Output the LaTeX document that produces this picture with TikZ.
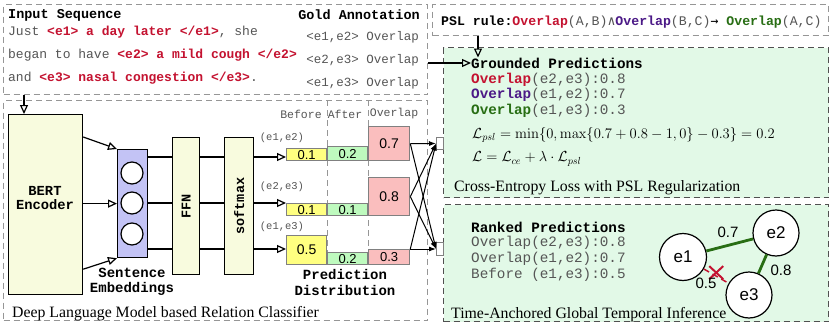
\documentclass[tikz,border=0pt]{standalone}
\usepackage{fix-cm}
\usepackage[no-math]{fontspec}
\setmainfont{Liberation Serif}
\setsansfont{Liberation Sans}
\setmonofont{Liberation Mono}
\newfontfamily\dvmono{DejaVu Sans Mono}
\usetikzlibrary{arrows.meta,calc}
\definecolor{tred}{RGB}{196,18,48}
\definecolor{tpurple}{RGB}{75,25,135}
\definecolor{tgreen}{RGB}{40,110,20}
\definecolor{tgray}{RGB}{85,85,85}
\definecolor{lgreen}{RGB}{226,249,231}
\definecolor{cream}{RGB}{248,251,222}
\definecolor{lblue}{RGB}{195,195,245}
\definecolor{byellow}{RGB}{255,255,128}
\definecolor{bgreen}{RGB}{190,250,190}
\definecolor{bpink}{RGB}{250,190,190}
\definecolor{bargray}{RGB}{128,128,128}
\definecolor{dashgray}{RGB}{150,150,150}
\definecolor{dashdark}{RGB}{80,80,80}
\newcommand\MyMono[1]{\fontsize{#1}{#1}\selectfont\ttfamily}
\newcommand\MyMonoB[1]{\fontsize{#1}{#1}\selectfont\ttfamily\bfseries}
\newcommand\MySerif[1]{\fontsize{#1}{#1}\selectfont\rmfamily}
\newcommand\MySans[1]{\fontsize{#1}{#1}\selectfont\sffamily}
\begin{document}
\begin{tikzpicture}[x=1pt,y=-1pt,
  panel/.style={draw=dashgray, dash pattern=on 6pt off 4pt, line width=1.2pt, inner sep=0, anchor=north west},
  gpanel/.style={panel, draw=dashdark, fill=lgreen},
  blk/.style={draw=black, line width=1.2pt, inner sep=0, anchor=north west},
  bar/.style={draw=bargray, line width=1.3pt, inner sep=0, anchor=north west, font=\MySans{13}, text height=9pt, text depth=0pt},
  oarr/.style={-{Triangle[open,length=9pt,width=8pt]}, line width=1.2pt},
  farr/.style={-{Latex[length=7pt,width=5pt]}, line width=1pt},
  tx/.style={inner sep=0, anchor=west},
  captxt/.style={inner sep=0, anchor=base west, font=\MySerif{15.8}},
  ev/.style={circle, draw=black, line width=1.2pt, fill=white, inner sep=0, minimum size=47pt, font=\MySans{17}},
  gedge/.style={draw=tgreen, line width=2.8pt},
  elab/.style={font=\MySans{15}, inner sep=0}
]
\fill[white] (0,0) rectangle (830,329);
\useasboundingbox (0,0) rectangle (830,329);

% panels
\node[panel, minimum width=424pt, minimum height=90pt] (inputbox) at (3,4) {};
\node[panel, minimum width=396pt, minimum height=31pt] (psl) at (432,4) {};
\node[gpanel, minimum width=385pt, minimum height=150pt] (cebox) at (443,47) {};
\node[gpanel, minimum width=385pt, minimum height=117pt] (tabox) at (443,204) {};
\node[panel, minimum width=424pt, minimum height=220pt] (dlm) at (3,100) {};

% input sequence
\node[tx, font=\MyMonoB{13.5}] (insq) at (8,15) {Input Sequence};
\node[tx, anchor=east, font=\MyMonoB{13.5}] (gold) at (420,15) {Gold Annotation};
\node[tx, font=\MyMono{13}, text=tgray] (s1) at (8,32) {Just \textbf{\color{tred}<e1> a day later </e1>}, she};
\node[tx, font=\MyMono{13}, text=tgray] (s2) at (8,55) {began to have \textbf{\color{tred}<e2> a mild cough </e2>}};
\node[tx, font=\MyMono{13}, text=tgray] (s3) at (8,78) {and \textbf{\color{tred}<e3> nasal congestion </e3>}.};
\node[tx, anchor=east, font=\MyMono{12.5}, text=tgray] (ga1) at (419,37) {<e1,e2> Overlap};
\node[tx, anchor=east, font=\MyMono{12.5}, text=tgray] (ga2) at (419,60) {<e2,e3> Overlap};
\node[tx, anchor=east, font=\MyMono{12.5}, text=tgray] (ga3) at (419,83) {<e1,e3> Overlap};

% PSL rule
\node[tx, font=\MyMono{13.2}, text=tgray] (rule) at (441,22) {\textbf{\color{black}PSL rule:}\textbf{\color{tred}Overlap}(A,B){\dvmono ∧}\textbf{\color{tpurple}Overlap}(B,C){\dvmono\color{black}→} \textbf{\color{tgreen}Overlap}(A,C)};

% BERT, embeddings, FFN, softmax
\node[blk, fill=cream, minimum width=74pt, minimum height=180pt] (bert) at (8,114) {};
\node[font=\MyMonoB{13.8}, align=center, inner sep=0] (bertlab) at (45,198) {BERT\\[1pt]Encoder};
\node[blk, fill=lblue, minimum width=30pt, minimum height=108pt] (emb) at (117,149) {};
\node[circle, draw=black, line width=1.2pt, fill=white, minimum size=22pt, inner sep=0] (c1) at (132,173) {};
\node[circle, draw=black, line width=1.2pt, fill=white, minimum size=22pt, inner sep=0] (c2) at (132,203) {};
\node[circle, draw=black, line width=1.2pt, fill=white, minimum size=22pt, inner sep=0] (c3) at (132,234) {};
\node[font=\MyMonoB{14}, inner sep=0] (sen1) at (132,273) {Sentence};
\node[font=\MyMonoB{14}, inner sep=0] (sen2) at (132,289) {Embeddings};
\node[blk, fill=cream, minimum width=27pt, minimum height=137pt] (ffn) at (172,137) {};
\node[rotate=90, font=\MyMonoB{13.5}, inner sep=0] (ffnlab) at (ffn.center) {FFN};
\node[blk, fill=cream, minimum width=29pt, minimum height=137pt] (sm) at (224,137) {};
\node[rotate=90, font=\MyMonoB{13.5}, inner sep=0] (smlab) at (sm.center) {softmax};

\draw[oarr] ([yshift=-23pt]bert.north east) -- (emb.north west);
\draw[oarr] (bert.east |- emb.west) -- (emb.west);
\draw[oarr] ([yshift=26pt]bert.south east) -- (emb.south west);
\draw[oarr] ([xshift=21pt]inputbox.south west) -- ([xshift=21pt]inputbox.south west |- bert.north);

\coordinate (r1) at (0,157);
\coordinate (r2) at (0,203);
\coordinate (r3) at (0,249);
\foreach \r in {r1,r2,r3}{
  \draw[line width=1.2pt] (emb.east |- \r) -- (ffn.west |- \r);
  \draw[line width=1.2pt] (ffn.east |- \r) -- (sm.west |- \r);
}

% prediction distribution
\draw[draw=dashgray, dash pattern=on 6pt off 4pt, line width=1pt] (327,100) -- (327,264);
\draw[draw=dashgray, dash pattern=on 6pt off 4pt, line width=1pt] (368,100) -- (368,264);
\node[font=\MyMono{11.5}, text=tgray, inner sep=0] (hb) at (301,114) {Before};
\node[font=\MyMono{11.5}, text=tgray, inner sep=0] (ha) at (345,114) {After};
\node[font=\MyMono{11.5}, text=tgray, inner sep=0] (ho) at (394,114) {Overlap};
\node[font=\MyMono{10.5}, text=tgray, inner sep=0] (l1) at (282,138) {(e1,e2)};
\node[font=\MyMono{10.5}, text=tgray, inner sep=0] (l2) at (282,187) {(e2,e3)};
\node[font=\MyMono{10.5}, text=tgray, inner sep=0] (l3) at (282,227) {(e1,e3)};

\node[bar, fill=byellow, minimum width=40pt, minimum height=12pt] (b11) at (286,148) {0.1};
\node[bar, fill=bgreen, minimum width=40pt, minimum height=14pt] (b12) at (327,146) {0.2};
\node[bar, fill=bpink, minimum width=41pt, minimum height=34pt, font=\MySans{14}] (b13) at (368,126) {0.7};
\node[bar, fill=byellow, minimum width=40pt, minimum height=12pt] (b21) at (286,203) {0.1};
\node[bar, fill=bgreen, minimum width=40pt, minimum height=12pt] (b22) at (327,203) {0.1};
\node[bar, fill=bpink, minimum width=41pt, minimum height=38pt, font=\MySans{14}] (b23) at (368,177) {0.8};
\node[bar, fill=byellow, minimum width=40pt, minimum height=29pt, font=\MySans{14}] (b31) at (286,235) {0.5};
\node[bar, fill=bgreen, minimum width=40pt, minimum height=12pt] (b32) at (327,252) {0.2};
\node[bar, fill=bpink, minimum width=41pt, minimum height=15pt] (b33) at (368,249) {0.3};

\draw[oarr] (sm.east |- r1) -- (b11.west |- r1);
\draw[oarr] (sm.east |- r2) -- (b21.west |- r2);
\draw[oarr] (sm.east |- r3) -- (b31.west |- r3);

\node[font=\MyMonoB{14}, inner sep=0] (pd1) at (345,274) {Prediction};
\node[font=\MyMonoB{14}, inner sep=0] (pd2) at (345,290) {Distribution};

% ports and crossing arrows
\node[draw=bargray, line width=1pt, fill=white, minimum width=7pt, minimum height=12pt, inner sep=0, anchor=north west] (p1) at (436,137) {};
\node[draw=bargray, line width=1pt, fill=white, minimum width=7pt, minimum height=13pt, inner sep=0, anchor=north west] (p2) at (436,242) {};
\draw[farr] (b13.east) -- (p1.west);
\draw[farr] (b13.east) -- (p2.west);
\draw[farr] (b23.east) -- (p1.west);
\draw[farr] (b23.east) -- (p2.west);
\draw[farr] (b33.north east) -- (p1.west);
\draw[farr] (b33.north east) -- (p2.west);

% grounded predictions
\node[tx, font=\MyMonoB{14.3}] (grd) at (471,63) {Grounded Predictions};
\node[tx, font=\MyMono{14.3}, text=tgray] (g1) at (471,79.5) {\textbf{\color{tred}Overlap}(e2,e3):0.8};
\node[tx, font=\MyMono{14.3}, text=tgray] (g2) at (471,95) {\textbf{\color{tpurple}Overlap}(e1,e2):0.7};
\node[tx, font=\MyMono{14.3}, text=tgray] (g3) at (471,110.5) {\textbf{\color{tgreen}Overlap}(e1,e3):0.3};
\node[tx, font=\fontsize{14.6}{14.6}\selectfont] (f1) at (472,135) {$\mathcal{L}_{psl} = \min\{0, \max\{0.7+0.8-1, 0\} - 0.3\} = 0.2$};
\node[tx, font=\fontsize{14.6}{14.6}\selectfont] (f2) at (472,159) {$\mathcal{L} = \mathcal{L}_{ce} + \lambda\cdot\mathcal{L}_{psl}$};
\node[captxt] (cap1) at (454,191) {Cross-Entropy Loss with PSL Regularization};

\draw[oarr] (inputbox.east |- grd.west) -- (grd.west);
\draw[oarr] ([xshift=46pt]psl.south west) -- ([xshift=46pt]psl.south west |- grd.north);

% ranked predictions
\node[tx, font=\MyMonoB{14.3}] (rk) at (471,227) {Ranked Predictions};
\node[tx, font=\MyMono{14.3}, text=tgray] (rk1) at (471,243) {Overlap(e2,e3):0.8};
\node[tx, font=\MyMono{14.3}, text=tgray] (rk2) at (471,259) {Overlap(e1,e2):0.7};
\node[tx, font=\MyMono{14.3}, text=tgray] (rk3) at (471,275) {Before (e1,e3):0.5};

\node[ev] (e1) at (683,257) {e1};
\node[ev, minimum size=46pt] (e2) at (776,233) {e2};
\node[ev, minimum size=46pt] (e3) at (749,295) {e3};
\draw[gedge] (e1) -- (e2);
\draw[gedge] (e2) -- (e3);
\draw[draw=tred, line width=1.5pt, dash pattern=on 6pt off 4pt] (e1) -- coordinate[pos=0.5] (xm) (e3);
\draw[draw=tred, line width=2pt] ($(xm)+(-7,-10)$) -- ($(xm)+(7,3)$);
\draw[draw=tred, line width=2pt] ($(xm)+(-7,3)$) -- ($(xm)+(7,-10)$);
\node[elab] (w12) at (728,232) {0.7};
\node[elab] (w23) at (781,270) {0.8};
\node[elab] (w13) at (706,283) {0.5};
\node[captxt] (cap2) at (451,318) {Time-Anchored Global Temporal Inference};

\node[captxt] (cap0) at (12,317) {Deep Language Model based Relation Classifier};
\end{tikzpicture}
\end{document}
